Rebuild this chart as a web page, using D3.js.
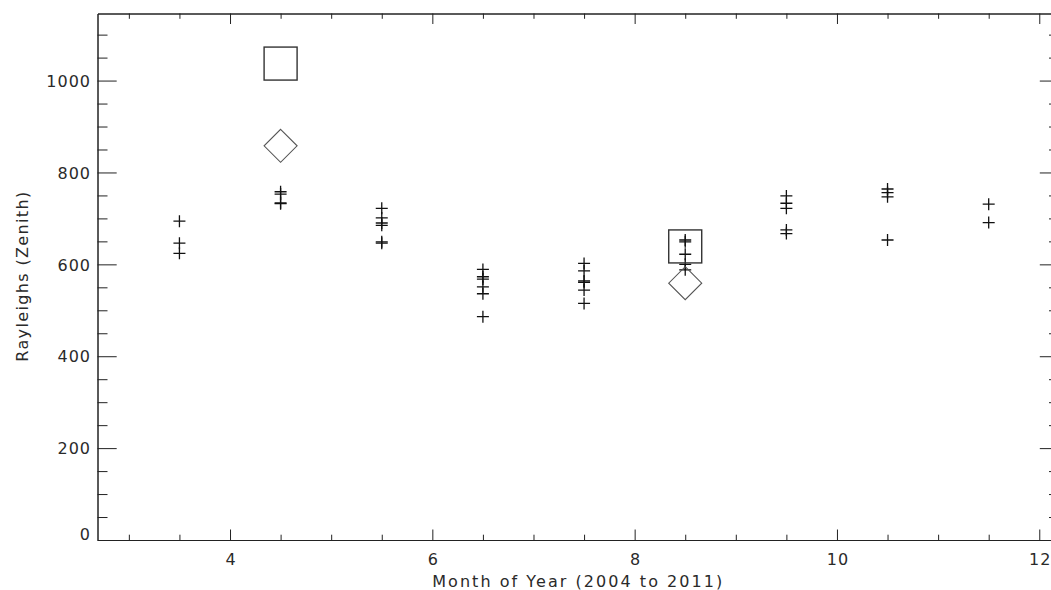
<!DOCTYPE html>
<html lang="en">
<head>
<meta charset="UTF-8">
<title>Rayleighs (Zenith) by Month of Year</title>
<script src="https://d3js.org/d3.v7.min.js"></script>
<style>
    body { margin: 0; background: #fff; }
    svg text { font-family: "DejaVu Sans", sans-serif; font-size: 16px; fill: #2a2a2a; }
    .axis text { letter-spacing: 1px; }
    .axis path, .axis line { stroke: #222; stroke-width: 1; }
</style>
</head>
<body>
<svg id="chart" width="1051" height="590"></svg>
<script>
// months (x) and the individual night values at each month
const months = [3.5, 4.5, 5.5, 6.5, 7.5, 8.5, 9.5, 10.5, 11.5];
const nightValues = [
    [694, 646, 624],
    [758, 753, 734, 732],
    [722, 701, 690, 685, 649, 646],
    [589, 573, 568, 551, 536, 486],
    [602, 586, 564, 561, 544, 515],
    [653, 649, 622, 600, 588],
    [749, 733, 722, 675, 667],
    [764, 756, 747, 653],
    [731, 691]
];
// square and diamond markers
const squareMonths = [4.5, 8.5];
const squareValues = [1037, 639];
const diamondMonths = [4.5, 8.5];
const diamondValues = [858, 559];

const xTicks = [4, 6, 8, 10, 12];
const yTicks = [0, 200, 400, 600, 800, 1000];
const xLabel = "Month of Year (2004 to 2011)";
const yLabel = "Rayleighs (Zenith)";

const pLeft = 97.5, pRight = 1059, pTop = 13.5, pBottom = 540;
const svg = d3.select("#chart");

const x = d3.scaleLinear().domain([2.69, 12.195]).range([pLeft, pRight]);
const y = d3.scaleLinear().domain([0, 1146]).range([pBottom, pTop]);

const xMinor = d3.range(3, 12.01, 0.5).filter(v => v % 2 !== 0);
const yMinor = d3.range(50, 1146, 50).filter(v => v % 200 !== 0);

const xMajLen = 10.5, xMinLen = 5.3, yMajLen = 19.2, yMinLen = 10;

// bottom axis
const gb = svg.append("g").attr("class", "axis")
    .attr("transform", `translate(0,${pBottom})`)
    .call(d3.axisBottom(x).tickValues(xTicks).tickSize(-xMajLen).tickSizeOuter(0).tickFormat(d3.format("d")));
gb.selectAll("text").attr("y", 25).attr("dy", 0).attr("dx", 0.5);
svg.append("g").attr("class", "axis")
    .attr("transform", `translate(0,${pBottom})`)
    .call(d3.axisBottom(x).tickValues(xMinor).tickSize(-xMinLen).tickSizeOuter(0).tickFormat(""));

// top axis
svg.append("g").attr("class", "axis")
    .attr("transform", `translate(0,${pTop})`)
    .call(d3.axisTop(x).tickValues(xTicks).tickSize(-xMajLen).tickSizeOuter(0).tickFormat(""));
svg.append("g").attr("class", "axis")
    .attr("transform", `translate(0,${pTop})`)
    .call(d3.axisTop(x).tickValues(xMinor).tickSize(-xMinLen).tickSizeOuter(0).tickFormat(""));

// left axis
const gl = svg.append("g").attr("class", "axis")
    .attr("transform", `translate(${pLeft},0)`)
    .call(d3.axisLeft(y).tickValues(yTicks).tickSize(-yMajLen).tickSizeOuter(0).tickFormat(d3.format("d")));
gl.selectAll("text").attr("x", -6.5)
    .attr("dy", d => d === 0 ? "-0.02em" : "0.36em");
svg.append("g").attr("class", "axis")
    .attr("transform", `translate(${pLeft},0)`)
    .call(d3.axisLeft(y).tickValues(yMinor).tickSize(-yMinLen).tickSizeOuter(0).tickFormat(""));

// right axis
svg.append("g").attr("class", "axis")
    .attr("transform", `translate(${pRight},0)`)
    .call(d3.axisRight(y).tickValues(yTicks).tickSize(-yMajLen).tickSizeOuter(0).tickFormat(""));
svg.append("g").attr("class", "axis")
    .attr("transform", `translate(${pRight},0)`)
    .call(d3.axisRight(y).tickValues(yMinor).tickSize(-yMinLen).tickSizeOuter(0).tickFormat(""));

svg.selectAll(".axis").attr("font-family", null).attr("font-size", null);

// axis titles
svg.append("text")
    .attr("x", (pLeft + pRight) / 2 - 1)
    .attr("y", 587)
    .attr("text-anchor", "middle")
    .attr("textLength", 290)
    .attr("lengthAdjust", "spacing")
    .text(xLabel);

svg.append("text")
    .attr("transform", `translate(28,${(pTop + pBottom) / 2}) rotate(-90)`)
    .attr("text-anchor", "middle")
    .attr("textLength", 170)
    .attr("lengthAdjust", "spacing")
    .text(yLabel);

// plus markers
const pts = [];
months.forEach((m, i) => nightValues[i].forEach(v => pts.push({ m: m, v: v })));
svg.append("g").selectAll("path")
    .data(pts)
    .join("path")
    .attr("d", d => {
        const cx = x(d.m), cy = y(d.v);
        return `M${cx - 6},${cy}h12M${cx},${cy - 6}v12`;
    })
    .attr("stroke", "#111")
    .attr("stroke-width", 1.3)
    .attr("fill", "none");

// squares
svg.append("g").selectAll("rect")
    .data(squareMonths.map((m, i) => ({ m: m, v: squareValues[i] })))
    .join("rect")
    .attr("x", d => x(d.m) - 16.5)
    .attr("y", d => y(d.v) - 16.5)
    .attr("width", 33)
    .attr("height", 33)
    .attr("fill", "none")
    .attr("stroke", "#333")
    .attr("stroke-width", 1.4);

// diamonds
svg.append("g").selectAll("path")
    .data(diamondMonths.map((m, i) => ({ m: m, v: diamondValues[i] })))
    .join("path")
    .attr("d", d => {
        const cx = x(d.m), cy = y(d.v), r = 16.5;
        return `M${cx},${cy - r}L${cx + r},${cy}L${cx},${cy + r}L${cx - r},${cy}Z`;
    })
    .attr("fill", "none")
    .attr("stroke", "#555")
    .attr("stroke-width", 1.1);
</script>
</body>
</html>
